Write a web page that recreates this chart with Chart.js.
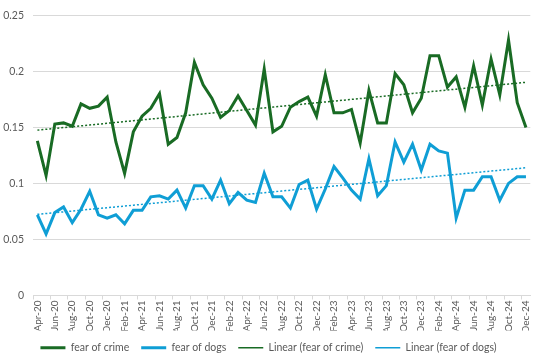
<!DOCTYPE html>
<html>
<head>
<meta charset="utf-8">
<script src="https://cdn.jsdelivr.net/npm/chart.js@4"></script>
<style>
  html, body { margin:0; padding:0; background:#fff; }
  #wrap { width:539px; height:362px; }
</style>
</head>
<body>
<div id="wrap"><canvas id="chart" width="539" height="362"></canvas></div>
<script>
// months Apr-20 .. Dec-24
const months = [
  'Apr-20','May-20','Jun-20','Jul-20','Aug-20','Sep-20','Oct-20','Nov-20','Dec-20',
  'Jan-21','Feb-21','Mar-21','Apr-21','May-21','Jun-21','Jul-21','Aug-21','Sep-21','Oct-21','Nov-21','Dec-21',
  'Jan-22','Feb-22','Mar-22','Apr-22','May-22','Jun-22','Jul-22','Aug-22','Sep-22','Oct-22','Nov-22','Dec-22',
  'Jan-23','Feb-23','Mar-23','Apr-23','May-23','Jun-23','Jul-23','Aug-23','Sep-23','Oct-23','Nov-23','Dec-23',
  'Jan-24','Feb-24','Mar-24','Apr-24','May-24','Jun-24','Jul-24','Aug-24','Sep-24','Oct-24','Nov-24','Dec-24'
];

const fearOfCrime = [
  0.138,0.107,0.153,0.154,0.151,0.171,0.167,0.169,0.177,
  0.137,0.109,0.146,0.160,0.167,0.180,0.135,0.141,0.163,0.208,0.188,0.176,
  0.159,0.165,0.178,0.165,0.152,0.202,0.146,0.151,0.168,0.173,0.177,0.160,
  0.197,0.163,0.163,0.166,0.136,0.183,0.154,0.154,0.198,0.188,0.163,0.176,
  0.214,0.214,0.186,0.195,0.168,0.205,0.170,0.211,0.179,0.228,0.172,0.150
];

const fearOfDogs = [
  0.072,0.055,0.074,0.079,0.065,0.077,0.093,0.072,0.069,
  0.072,0.064,0.076,0.076,0.088,0.089,0.086,0.094,0.078,0.098,0.098,0.086,
  0.103,0.082,0.092,0.085,0.083,0.109,0.088,0.088,0.078,0.099,0.103,0.077,
  0.095,0.115,0.105,0.094,0.086,0.122,0.089,0.098,0.137,0.119,0.135,0.112,
  0.135,0.129,0.127,0.069,0.094,0.094,0.106,0.106,0.085,0.100,0.106,0.106
];

const yTicks = [0, 0.05, 0.1, 0.15, 0.2, 0.25];

const GREEN = '#196B24', BLUE = '#0F9ED5', TXT = '#595959', GRID = '#d9d9d9';

// excel style linear trendline (least squares over the month index)
function trend(arr){
  const n = arr.length;
  let sx=0, sy=0, sxy=0, sxx=0;
  arr.forEach((y,i)=>{ sx+=i; sy+=y; sxy+=i*y; sxx+=i*i; });
  const b = (n*sxy - sx*sy) / (n*sxx - sx*sx);
  const a = (sy - b*sx) / n;
  return arr.map((_,i)=> a + b*i);
}

const fam = 'Lato, "Open Sans", sans-serif';

new Chart(document.getElementById('chart'), {
  type:'line',
  data:{
    labels: months,
    datasets:[
      { label:'fear of crime', data: fearOfCrime, borderColor:GREEN, backgroundColor:GREEN, borderWidth:3, pointRadius:0, tension:0 },
      { label:'fear of dogs', data: fearOfDogs, borderColor:BLUE, backgroundColor:BLUE, borderWidth:3, pointRadius:0, tension:0 },
      { label:'Linear (fear of crime)', data: trend(fearOfCrime), borderColor:GREEN, backgroundColor:GREEN, borderWidth:1.5, borderDash:[2,2], pointRadius:0 },
      { label:'Linear (fear of dogs)', data: trend(fearOfDogs), borderColor:BLUE, backgroundColor:BLUE, borderWidth:1.5, borderDash:[2,2], pointRadius:0 }
    ]
  },
  options:{
    responsive:false,
    animation:false,
    layout:{ padding:{ top:0, right:4, left:2, bottom:-1 } },
    plugins:{
      tooltip:{ enabled:false },
      legend:{
        position:'bottom',
        labels:{
          usePointStyle:true, pointStyle:'line', pointStyleWidth:25,
          color:TXT, font:{ family:fam, size:10.5 }, padding:12
        }
      }
    },
    scales:{
      x:{
        offset:true,
        afterFit: s => { s.height = 35; },
        grid:{ drawOnChartArea:false, drawTicks:true, tickLength:4, offset:true,
               color: c => (c.index % 2 === 0 ? GRID : 'transparent') },
        border:{ color:GRID },
        ticks:{
          autoSkip:false, maxRotation:90, minRotation:90, color:TXT,
          font:{ family:fam, size:10 }, padding:1,
          callback:(v,i)=> i % 2 === 0 ? months[i] : ''
        }
      },
      y:{
        min:0, max:0.25,
        afterFit: s => { s.width = 31; },
        afterBuildTicks: ax => { ax.ticks = yTicks.map(v=>({ value:v })); },
        grid:{ color:GRID, drawTicks:false },
        border:{ display:false },
        ticks:{ color:TXT, font:{ family:fam, size:10.5 }, padding:9, callback: v => String(v) }
      }
    }
  }
});
</script>
</body>
</html>
